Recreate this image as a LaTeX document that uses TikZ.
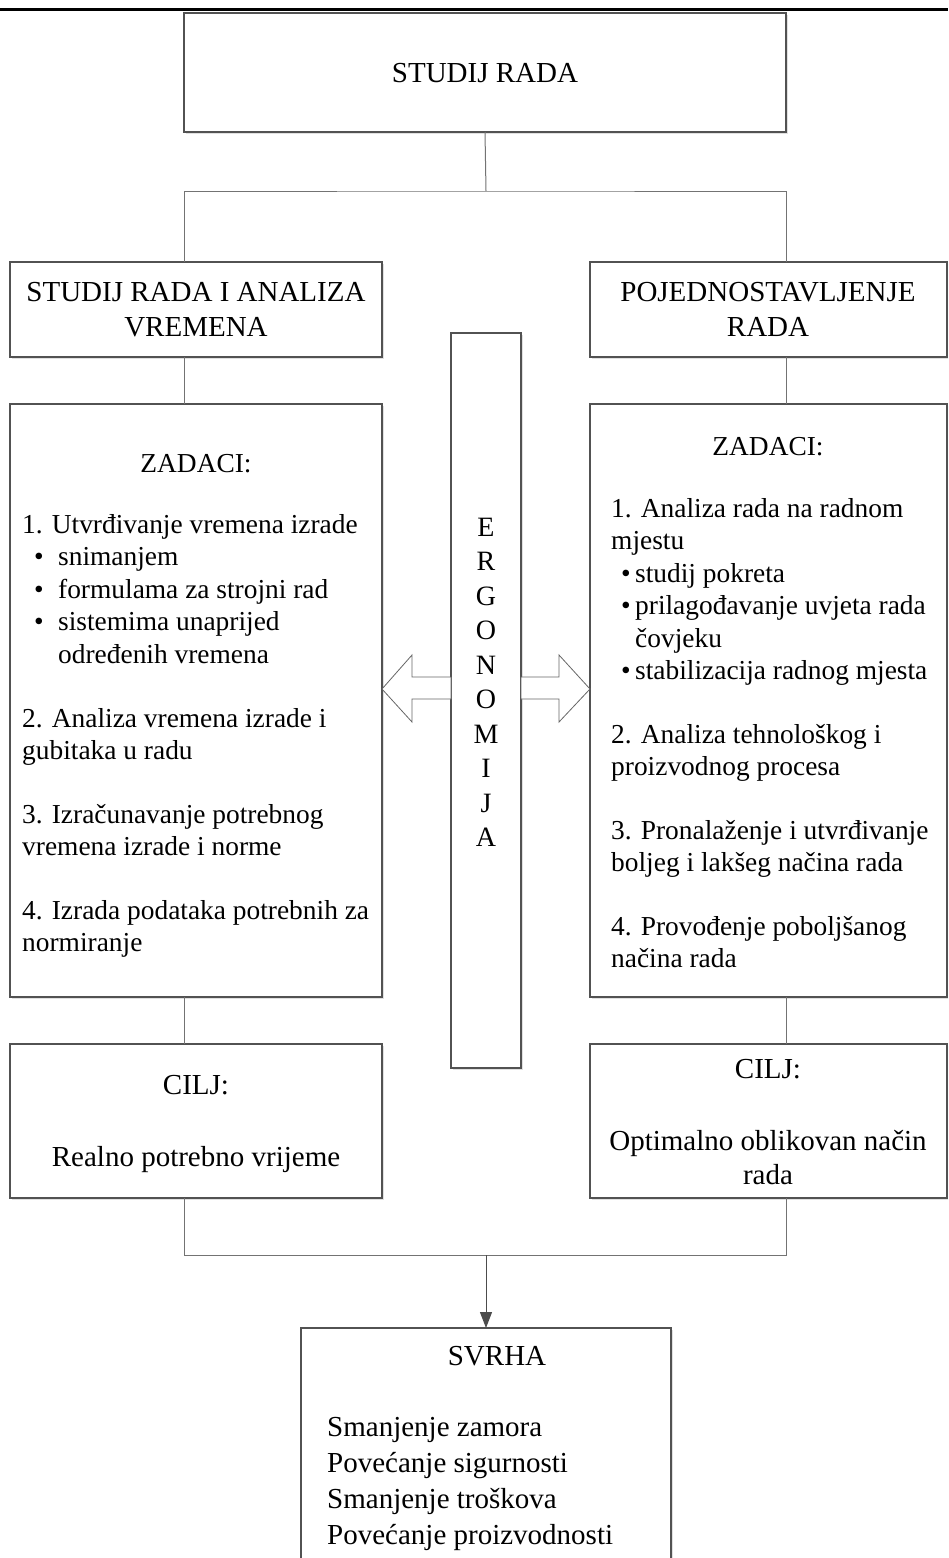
\documentclass[tikz,border=0pt]{standalone}
\usepackage{fontspec}
\setmainfont{Liberation Serif}
\usetikzlibrary{arrows.meta,shadows,calc}
\begin{document}
\begin{tikzpicture}[x=1pt,y=-1pt,
  box/.style={draw=black!68, line width=1.3pt, fill=white, outer sep=0pt, inner sep=0pt, anchor=north west,
    drop shadow={shadow xshift=2pt, shadow yshift=-2pt, fill=black!12, opacity=1}},
  conn/.style={draw=black!55, line width=1pt},
  blockarrow/.style={draw=black!60, line width=0.8pt, fill=white, line join=miter},
  hd/.style={font=\fontsize{29}{35}\selectfont, anchor=base, inner sep=0pt},
  tx/.style={font=\fontsize{27.4}{32}\selectfont, anchor=base west, inner sep=0pt},
  txc/.style={font=\fontsize{27.4}{32}\selectfont, anchor=base, inner sep=0pt},
  ergo/.style={font=\fontsize{28}{34}\selectfont, anchor=base, inner sep=0pt}]
\clip[use as bounding box] (0,0) rectangle (948,1558);
\fill[white] (0,0) rectangle (948,1558);
% top rule
\draw[line width=3pt] (0,9.5) -- (948,9.5);
% boxes
\node[box, minimum width=602pt, minimum height=119pt] (top) at (184,13) {};
\node[box, minimum width=372pt, minimum height=95pt] (lhead) at (10,262) {};
\node[box, minimum width=357pt, minimum height=95pt] (rhead) at (590,262) {};
\node[box, minimum width=372pt, minimum height=593pt] (lz) at (10,404) {};
\node[box, minimum width=357pt, minimum height=593pt] (rz) at (590,404) {};
\node[box, minimum width=70pt, minimum height=735pt] (ergobox) at (451,333) {};
\node[box, minimum width=372pt, minimum height=154pt] (lc) at (10,1044) {};
\node[box, minimum width=357pt, minimum height=154pt] (rc) at (590,1044) {};
\node[box, minimum width=370pt, minimum height=280pt] (svrha) at (301,1328) {};
% connectors
\coordinate (busTop) at (486,191);
\coordinate (busBot) at (486,1255);
\draw[conn] (top.south) -- (busTop);
\draw[conn] (lhead.north -| top.south west) |- (busTop) -| (rhead.north -| top.south east);
\draw[conn] (lhead.south -| top.south west) -- (lz.north -| top.south west);
\draw[conn] (rhead.south -| top.south east) -- (rz.north -| top.south east);
\draw[conn] (lz.south -| top.south west) -- (lc.north -| top.south west);
\draw[conn] (rz.south -| top.south east) -- (rc.north -| top.south east);
\draw[conn] (lc.south -| top.south west) |- (busBot) -| (rc.south -| top.south east);
\draw[conn, draw=black!70, -{Triangle[length=16pt,width=12pt]}] (busBot) -- (svrha.north);
% block arrows
\draw[blockarrow] (382,689) -- (412,655) -- (412,677) -- (451,677) -- (451,699) -- (412,699) -- (412,722) -- cycle;
\draw[blockarrow] (590,689) -- (559,655) -- (559,677) -- (521,677) -- (521,699) -- (559,699) -- (559,722) -- cycle;
% texts
\node[hd] (t0) at (485,82) {STUDIJ RADA};
\node[hd] (lh1) at (196,301) {STUDIJ RADA I ANALIZA};
\node[hd] (lh2) at (196,336) {VREMENA};
\node[hd] (rh1) at (768,301) {POJEDNOSTAVLJENJE};
\node[hd] (rh2) at (768,336) {RADA};
% left zadaci
\node[txc] (lzt) at (196,472) {ZADACI:};
\node[tx] (zl1) at (22,533) {1. Utvrđivanje vremena izrade};
\node[tx] (zl2) at (34,565.5) {\makebox[24pt][l]{•}snimanjem};
\node[tx] (zl3) at (34,598) {\makebox[24pt][l]{•}formulama za strojni rad};
\node[tx] (zl4) at (34,630.5) {\makebox[24pt][l]{•}sistemima unaprijed};
\node[tx] (zl5) at (58,663) {određenih vremena};
\node[tx] (zl6) at (22,727) {2. Analiza vremena izrade i};
\node[tx] (zl7) at (22,759.5) {gubitaka u radu};
\node[tx] (zl8) at (22,823) {3. Izračunavanje potrebnog};
\node[tx] (zl9) at (22,855.5) {vremena izrade i norme};
\node[tx] (zl10) at (22,919) {4. Izrada podataka potrebnih za};
\node[tx] (zl11) at (22,951.5) {normiranje};
% right zadaci
\node[txc] (rzt) at (768,455) {ZADACI:};
\node[tx] (zr1) at (611,517) {1. Analiza rada na radnom};
\node[tx] (zr2) at (611,549.5) {mjestu};
\node[tx] (zr3) at (621,582) {\makebox[14pt][l]{•}studij pokreta};
\node[tx] (zr4) at (621,614.5) {\makebox[14pt][l]{•}prilagođavanje uvjeta rada};
\node[tx] (zr5) at (635,647) {čovjeku};
\node[tx] (zr6) at (621,679.5) {\makebox[14pt][l]{•}stabilizacija radnog mjesta};
\node[tx] (zr7) at (611,743) {2. Analiza tehnološkog i};
\node[tx] (zr8) at (611,775.5) {proizvodnog procesa};
\node[tx] (zr9) at (611,839) {3. Pronalaženje i utvrđivanje};
\node[tx] (zr10) at (611,871.5) {boljeg i lakšeg načina rada};
\node[tx] (zr11) at (611,935) {4. Provođenje poboljšanog};
\node[tx] (zr12) at (611,967.5) {načina rada};
% ergonomija
\foreach \L [count=\i] in {E,R,G,O,N,O,M,I,J,A}
  \node[ergo] (er\i) at (486,{536+(\i-1)*34.5}) {\L};
% cilj
\node[hd] (lc1) at (196,1094) {CILJ:};
\node[hd] (lc2) at (196,1166) {Realno potrebno vrijeme};
\node[hd] (rc1) at (768,1078) {CILJ:};
\node[hd] (rc2) at (768,1150) {Optimalno oblikovan način};
\node[hd] (rc3) at (768,1184) {rada};
% svrha
\node[hd] (sv0) at (497,1365) {SVRHA};
\node[hd, anchor=base west] (sv1) at (327,1436) {Smanjenje zamora};
\node[hd, anchor=base west] (sv2) at (327,1472) {Povećanje sigurnosti};
\node[hd, anchor=base west] (sv3) at (327,1508) {Smanjenje troškova};
\node[hd, anchor=base west] (sv4) at (327,1544) {Povećanje proizvodnosti};
\end{tikzpicture}
\end{document}
